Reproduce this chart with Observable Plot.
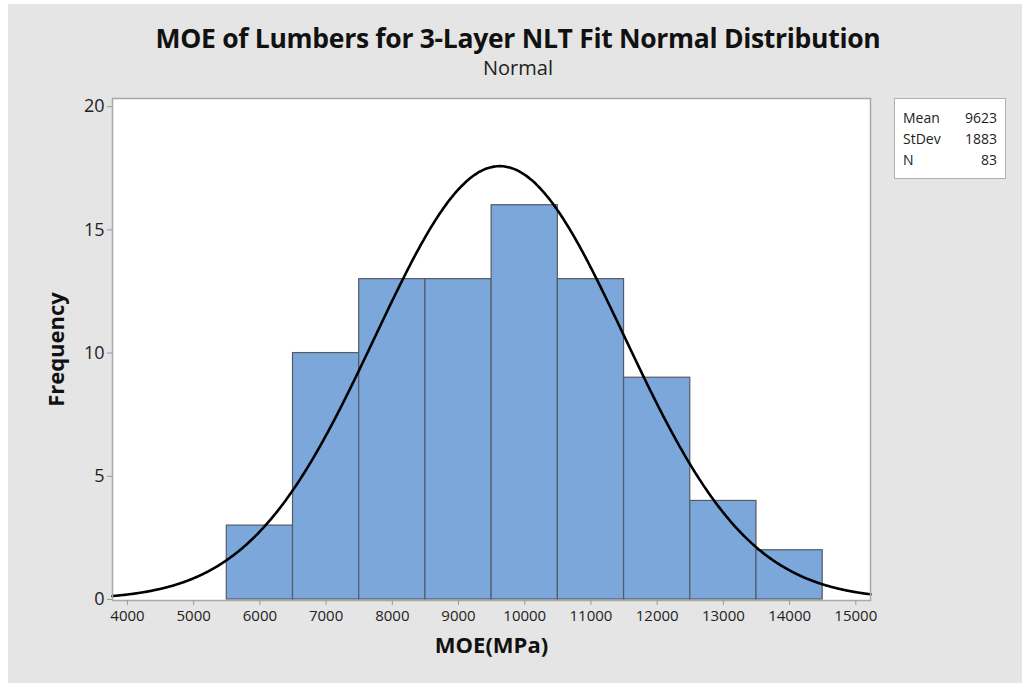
<!DOCTYPE html>
<html>
<head>
<meta charset="utf-8">
<script src="https://cdn.jsdelivr.net/npm/d3@7"></script>
<script src="https://cdn.jsdelivr.net/npm/@observablehq/plot@0.6"></script>
<style>
  html, body { margin: 0; padding: 0; background: #ffffff; }
  #panel { position: absolute; left: 8px; top: 4px; width: 1014px; height: 679px; background: #e5e5e5; font-family: "Open Sans", "Noto Sans", sans-serif; }
  #title { position: absolute; left: 0; width: 1020px; top: 16px; text-align: center; font-size: 26.5px; font-weight: bold; color: #111; letter-spacing: -0.3px; }
  #subtitle { position: absolute; left: 0; width: 1020px; top: 50px; text-align: center; font-size: 20px; color: #222; }
  #chart { position: absolute; left: 0; top: 0; }
  #legend { position: absolute; left: 886px; top: 94px; width: 112px; height: 81px; background: #fff; border: 1px solid #b0b0b0; box-sizing: border-box; font-size: 14px; color: #222; }
  #legend table { border-collapse: collapse; position: absolute; left: 8px; top: 8px; width: 94px; }
  #legend td { padding: 0; line-height: 21px; }
  #legend td.v { text-align: right; }
  #chart svg [aria-label="y-axis tick"] path, #chart svg [aria-label="x-axis tick"] path { stroke: #9a9a9a; }
</style>
</head>
<body>
<div id="panel">
  <div id="chart"></div>
  <div id="title">MOE of Lumbers for 3-Layer NLT Fit Normal Distribution</div>
  <div id="subtitle">Normal</div>
  <div id="legend"></div>
</div>
<script>
// Histogram bins (lower edge, upper edge) and counts
const binLower = [5500, 6500, 7500, 8500, 9500, 10500, 11500, 12500, 13500];
const binUpper = [6500, 7500, 8500, 9500, 10500, 11500, 12500, 13500, 14500];
const counts   = [3, 10, 13, 13, 16, 13, 9, 4, 2];

// Fit parameters shown in the legend
const statLabels = ["Mean", "StDev", "N"];
const statValues = [9623, 1883, 83];

// Axis ticks
const xTicks = [4000, 5000, 6000, 7000, 8000, 9000, 10000, 11000, 12000, 13000, 14000, 15000];
const yTicks = [0, 5, 10, 15, 20];

const bars = binLower.map((lo, i) => ({x1: lo, x2: binUpper[i], y: counts[i]}));

const mean = statValues[0], sd = statValues[1], n = statValues[2];
const binWidth = binUpper[0] - binLower[0];
const xDomain = [3774, 15222];
const curve = d3.range(xDomain[0], xDomain[1] + 1, 20).concat([xDomain[1]]).map(x => ({
  x,
  y: n * binWidth / (sd * Math.sqrt(2 * Math.PI)) * Math.exp(-0.5 * ((x - mean) / sd) ** 2)
}));

const chart = Plot.plot({
  width: 1014,
  height: 679,
  marginLeft: 104,
  marginRight: 152,
  marginTop: 94,
  marginBottom: 83,
  style: {background: "transparent", fontFamily: "'Open Sans', 'Noto Sans', sans-serif", color: "#222"},
  x: {domain: xDomain, label: null},
  y: {domain: [-0.04, 20.33], label: null},
  marks: [
    Plot.frame({fill: "white", stroke: null}),
    Plot.rectY(bars, {x1: "x1", x2: "x2", y: "y", fill: "#7ba7da", stroke: "#555a66", strokeWidth: 1.2}),
    Plot.line(curve, {x: "x", y: "y", stroke: "#000", strokeWidth: 2.6, curve: "basis"}),
    Plot.frame({stroke: "#a8a8a8", strokeWidth: 1.5}),
    Plot.axisY({ticks: yTicks, tickSize: 5, tickPadding: 3, fontSize: 18, label: null}),
    Plot.axisX({ticks: xTicks, tickSize: 5, tickPadding: 5, fontSize: 15, label: null, tickFormat: d => String(d)}),
    Plot.text(["MOE(MPa)"], {frameAnchor: "bottom", dy: 52, fontSize: 22, fontWeight: "bold", fill: "#111"}),
    Plot.text(["Frequency"], {frameAnchor: "left", dx: -56, rotate: -90, textAnchor: "middle", fontSize: 22, fontWeight: "bold", fill: "#111"})
  ]
});
document.getElementById("chart").appendChild(chart);

const legend = document.getElementById("legend");
legend.innerHTML = "<table>" + statLabels.map((l, i) =>
  `<tr><td>${l}</td><td class="v">${statValues[i]}</td></tr>`).join("") + "</table>";
</script>
</body>
</html>
